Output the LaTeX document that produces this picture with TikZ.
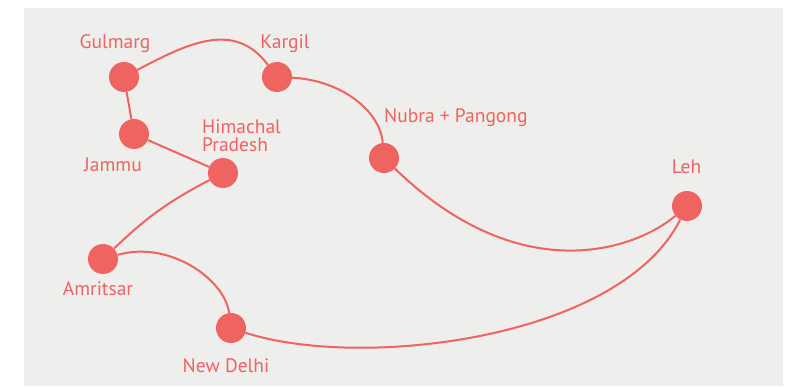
\documentclass[tikz,border=0pt]{standalone}
\usepackage{fontspec}
\setmainfont{PT Sans}
\definecolor{route}{HTML}{EF6360}
\definecolor{bggray}{HTML}{EEEEEC}
\tikzset{
  stop/.style={circle,fill=route,minimum size=30pt,inner sep=0pt},
  lbl/.style={text=route,inner sep=0pt,font=\fontsize{19.5}{18}\selectfont},
  link/.style={draw=route,line width=2pt}
}
\begin{document}
\begin{tikzpicture}[x=1pt,y=-1pt]
\useasboundingbox (0,0) rectangle (786,387);
\fill[bggray] (24,8) rectangle (783,386);
\node[stop] (g) at (124,77) {};
\node[stop] (k) at (277,77) {};
\node[stop] (j) at (134,134) {};
\node[stop] (h) at (223,173) {};
\node[stop] (a) at (103,259) {};
\node[stop] (d) at (231,328) {};
\node[stop] (n) at (384,158) {};
\node[stop] (l) at (687,206) {};
\node[lbl,anchor=base] (gl) at (115,49) {Gulmarg};
\node[lbl,anchor=base] (kl) at (285,49) {Kargil};
\node[lbl,anchor=base] (jl) at (113,172) {Jammu};
\node[lbl,anchor=base west,align=left] (hl) at (202,152) {Himachal\\Pradesh};
\node[lbl,anchor=base] (al) at (98,295) {Amritsar};
\node[lbl,anchor=base] (dl) at (226,372) {New Delhi};
\node[lbl,anchor=base west] (nl) at (384,123) {Nubra + Pangong};
\node[lbl,anchor=base] (ll) at (686.5,174) {Leh};
\draw[link] (g) .. controls (190,42) and (235,21) .. (k);
\draw[link] (k) .. controls (340,80) and (380,110) .. (n);
\draw[link] (n) .. controls (520,290) and (635,250) .. (l);
\draw[link] (g) -- (j);
\draw[link] (j) -- (h);
\draw[link] (h) to[bend right=8] (a);
\draw[link] (a) .. controls (170,240) and (225,280) .. (d);
\draw[link] (d) .. controls (360,370) and (620,340) .. (l);
\end{tikzpicture}
\end{document}
